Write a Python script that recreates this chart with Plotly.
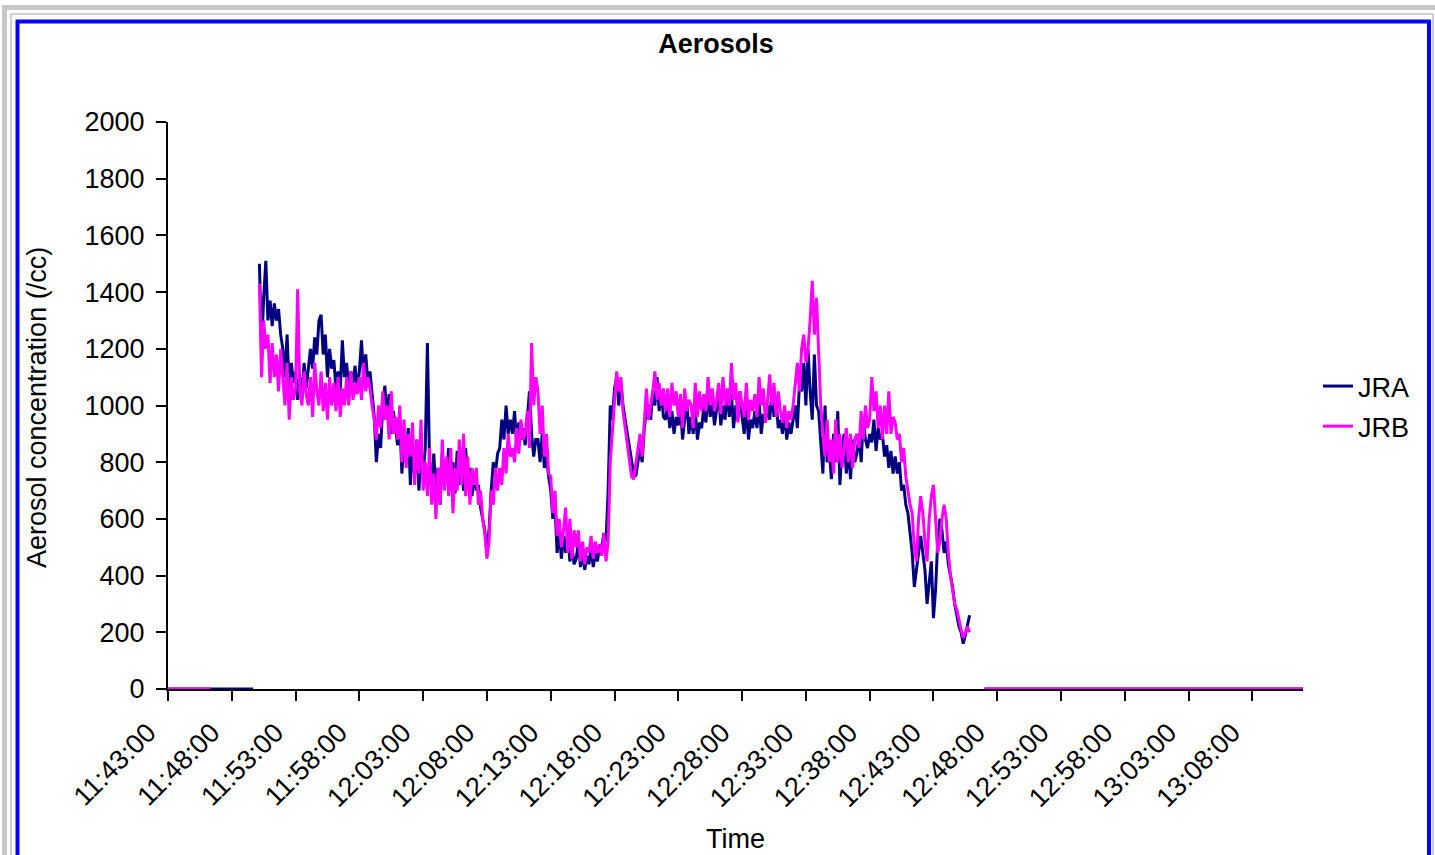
import pandas as pd
import plotly.graph_objects as go

# ---- data ----
day = "2000-01-01 "
data_start = "11:50:10"      # first reading
step_seconds = 10            # reading interval

# JRA readings (/cc), 10 s apart, one row per minute
jra = [1500, 1200, 1380, 1510, 1300,
       1370, 1280, 1360, 1300, 1340, 1250,
       1200, 1100, 1250, 1060, 1150, 1080,
       1120, 1020, 1100, 1040, 1150, 1060,
       1140, 1200, 1130, 1240, 1180, 1300,
       1320, 1180, 1250, 1100, 1200, 1130,
       1160, 1060, 1120, 1050, 1230, 1100,
       1150, 1060, 1120, 1080, 1140, 1050,
       1120, 1230, 1100, 1180, 1080, 1120,
       1040, 960, 800, 900, 850, 1000,
       1070, 950, 1040, 900, 980, 920,
       860, 950, 760, 880, 800, 920,
       720, 860, 750, 880, 700, 820,
       760, 850, 1220, 800, 720, 830,
       700, 780, 650, 830, 720, 760,
       850, 700, 800, 690, 840, 720,
       800, 700, 850, 720, 780, 680,
       760, 700, 720, 640, 600, 560,
       480, 560, 700, 800, 760, 830,
       850, 950, 880, 1000, 900, 950,
       900, 980, 860, 940, 880, 920,
       860, 950, 1050, 900, 820, 880,
       880, 800, 900, 780, 820, 750,
       700, 600, 650, 480, 560, 460,
       540, 480, 560, 450, 500, 440,
       460, 520, 430, 480, 420, 470,
       440, 500, 430, 480, 450, 510,
       500, 550, 520, 700, 1000, 950,
       1060, 1100, 1000, 1080, 1000, 950,
       900, 850, 800, 760, 750, 800,
       850, 800, 920, 980, 1000, 950,
       1050, 1000, 1100, 980, 1050, 960,
       950, 1000, 920, 980, 900, 960,
       930, 1000, 880, 950, 1020, 900,
       960, 900, 980, 880, 940, 920,
       1000, 940, 1050, 960, 1020, 930,
       980, 1040, 930, 1000, 950, 1050,
       960, 1040, 920, 1000, 950, 1050,
       960, 900, 1000, 880, 950, 920,
       980, 920, 1020, 900, 970, 940,
       1000, 950, 1050, 960, 1020, 920,
       950, 900, 980, 880, 940, 900,
       950, 1000, 920, 1080, 1050, 1150,
       1000, 1200, 1050, 950, 1180, 1000,
       980, 850, 760, 1000, 800, 850,
       740, 900, 800, 980, 720, 850,
       900, 760, 850, 740, 880, 800,
       830, 900, 800, 950, 880, 850,
       900, 870, 950, 840, 920, 880,
       900, 820, 860, 780, 840, 760,
       820, 760, 800, 700, 720, 650,
       620, 550, 480, 360, 420, 500,
       540, 480, 420, 300, 380, 450,
       250, 350, 520, 600, 560, 480,
       520, 440, 400, 360, 300, 260,
       220, 200, 160, 190, 230, 260]

# JRB readings (/cc), same times
jrb = [1430, 1100, 1300, 1200, 1250,
       1080, 1220, 1100, 1180, 1050, 1200,
       1100, 1000, 1150, 950, 1100, 1020,
       1060, 1410, 1050, 1000, 1120, 1040,
       1000, 1100, 960, 1150, 1050, 1000,
       1120, 980, 1080, 950, 1100, 1000,
       1080, 980, 1100, 960, 1060, 1000,
       1100, 1000, 1120, 1020, 1080, 1040,
       1100, 1020, 1150, 1050, 1100, 1060,
       1000, 950, 880, 1000, 920, 1050,
       950, 1000, 880, 1050, 900, 960,
       880, 1000, 800, 950, 780, 900,
       820, 940, 720, 880, 760, 950,
       700, 800, 680, 850, 650, 760,
       600, 780, 650, 880, 700, 820,
       680, 850, 620, 780, 700, 880,
       720, 900, 680, 820, 650, 780,
       720, 780, 650, 700, 600, 550,
       460, 520, 700, 650, 780, 700,
       780, 720, 850, 760, 900, 820,
       850, 800, 920, 830, 950, 880,
       900, 980, 850, 1220, 1000, 1100,
       1050, 900, 1000, 820, 900, 760,
       750, 620, 700, 540, 600, 500,
       560, 640, 480, 600, 460, 560,
       500, 560, 450, 520, 440, 500,
       480, 540, 460, 520, 480, 510,
       470, 550, 450, 520, 800, 900,
       1000, 1120, 1050, 1100, 980, 920,
       880, 800, 750, 740, 800, 850,
       900, 820, 950, 1060, 950, 1000,
       1050, 1120, 1020, 1080, 1000, 1060,
       980, 1060, 960, 1080, 1000, 1050,
       960, 1040, 920, 1060, 980, 1020,
       1000, 920, 1080, 960, 1050, 980,
       1040, 980, 1100, 1000, 1060, 980,
       1020, 1080, 970, 1100, 1000, 1060,
       1000, 1150, 1020, 1080, 940, 1050,
       1000, 960, 1080, 950, 1020, 980,
       1040, 960, 1100, 1000, 1060, 940,
       1020, 1110, 1000, 1080, 960, 1050,
       980, 940, 1000, 920, 980, 950,
       1000, 1080, 1150, 1050, 1200, 1250,
       1150, 1200, 1300, 1440, 1250, 1380,
       1200, 1000, 900, 820, 950, 800,
       880, 760, 950, 800, 900, 780,
       850, 920, 800, 900, 780, 880,
       900, 850, 980, 880, 1000, 920,
       950, 1100, 980, 1050, 920, 1000,
       880, 1000, 900, 1050, 900, 960,
       940, 880, 900, 800, 850, 750,
       700, 650, 620, 500, 450, 600,
       680, 620, 520, 450, 600, 680,
       720, 600, 480, 520, 600, 650,
       600, 480, 400, 350, 300, 280,
       240, 210, 180, 200, 220, 200]

# flat zero readings before and after the measurement run
jra_zero_before = ["11:43:00", "11:49:40"]
jrb_zero_before = ["11:43:00", "11:46:20"]
jra_zero_after = ["12:47:00", "13:12:00"]
jrb_zero_after = ["12:47:00", "13:12:00"]

x_ticks = ["11:43:00", "11:48:00", "11:53:00", "11:58:00", "12:03:00", "12:08:00",
           "12:13:00", "12:18:00", "12:23:00", "12:28:00", "12:33:00", "12:38:00",
           "12:43:00", "12:48:00", "12:53:00", "12:58:00", "13:03:00", "13:08:00"]
y_ticks = [0, 200, 400, 600, 800, 1000, 1200, 1400, 1600, 1800, 2000]


def build(values, before, after):
    t = list(pd.date_range(day + data_start, periods=len(values), freq=f"{step_seconds}s"))
    xs = [pd.Timestamp(day + s) for s in before] + [None] + t + [None] + [pd.Timestamp(day + s) for s in after]
    ys = [0, 0] + [None] + list(values) + [None] + [0, 0]
    return xs, ys


fig = go.Figure()
for name, vals, b, a, col in [("JRA", jra, jra_zero_before, jra_zero_after, "#000080"),
                              ("JRB", jrb, jrb_zero_before, jrb_zero_after, "#FF00FF")]:
    xs, ys = build(vals, b, a)
    fig.add_trace(go.Scatter(x=xs, y=ys, mode="lines", name=name, legendgroup=name,
                             line=dict(color=col, width=3), connectgaps=False))

W, H = 1435, 855
L, R, T, B = 168, 1303, 122, 689
FS = 27
fig.update_layout(
    width=W, height=H,
    margin=dict(l=L, r=W - R, t=T, b=H - B),
    paper_bgcolor="white", plot_bgcolor="white",
    font=dict(family="Liberation Sans, Arial, sans-serif", size=FS, color="black"),
    title=dict(text="<b>Aerosols</b>", x=716 / W, xref="container", xanchor="center",
               y=1 - 44 / H, yref="container", yanchor="middle",
               font=dict(size=FS, color="black")),
    showlegend=True,
    legend=dict(x=(1318 - L) / (R - L), xanchor="left", y=(B - 362) / (B - T), yanchor="top",
                bgcolor="rgba(0,0,0,0)", font=dict(size=FS), tracegroupgap=2,
                itemwidth=30),
)
fig.update_xaxes(
    type="date", range=[day + "11:43:00", day + "13:11:58"],
    tickvals=[day + s for s in x_ticks], ticktext=x_ticks, tickangle=-45,
    ticks="outside", ticklen=10, tickwidth=2, tickcolor="black",
    showline=True, linecolor="black", linewidth=2, showgrid=False, zeroline=False,
    tickfont=dict(size=FS), ticklabelshift=-20, ticklabelstandoff=5,
)
fig.update_yaxes(
    range=[0, 2000], tickvals=y_ticks, ticks="outside", ticklen=10, tickwidth=2,
    tickcolor="black", showline=True, linecolor="black", linewidth=2,
    showgrid=False, zeroline=False, tickfont=dict(size=FS), ticklabelstandoff=6,
)


def px(xp):
    return (xp - L) / (R - L)


def py(yp):
    return (B - yp) / (B - T)


# axis titles
fig.add_annotation(text="Aerosol concentration (/cc)", textangle=-90, xref="paper", yref="paper",
                   x=px(37), y=py(408), showarrow=False, font=dict(size=FS), xanchor="center", yanchor="middle")
fig.add_annotation(text="Time", xref="paper", yref="paper", x=px(735), y=py(839), showarrow=False,
                   font=dict(size=FS), xanchor="center", yanchor="middle")

# page frame (gray outer, blue chart border)
fig.add_shape(type="rect", xref="paper", yref="paper", x0=px(4.5), x1=px(1440), y0=py(7.5), y1=py(900),
              line=dict(color="#c8c8c8", width=5), layer="below")
fig.add_shape(type="rect", xref="paper", yref="paper", x0=px(11), x1=px(1433), y0=py(14), y1=py(900),
              line=dict(color="#a0a0a0", width=1), layer="below")
fig.add_shape(type="rect", xref="paper", yref="paper", x0=px(17.5), x1=px(1429), y0=py(21.5), y1=py(900),
              line=dict(color="#0000ff", width=4), layer="below")

fig.write_html("out.html", config={"displayModeBar": False},
               post_script="document.body.style.margin='0';document.body.style.overflow='hidden';")
